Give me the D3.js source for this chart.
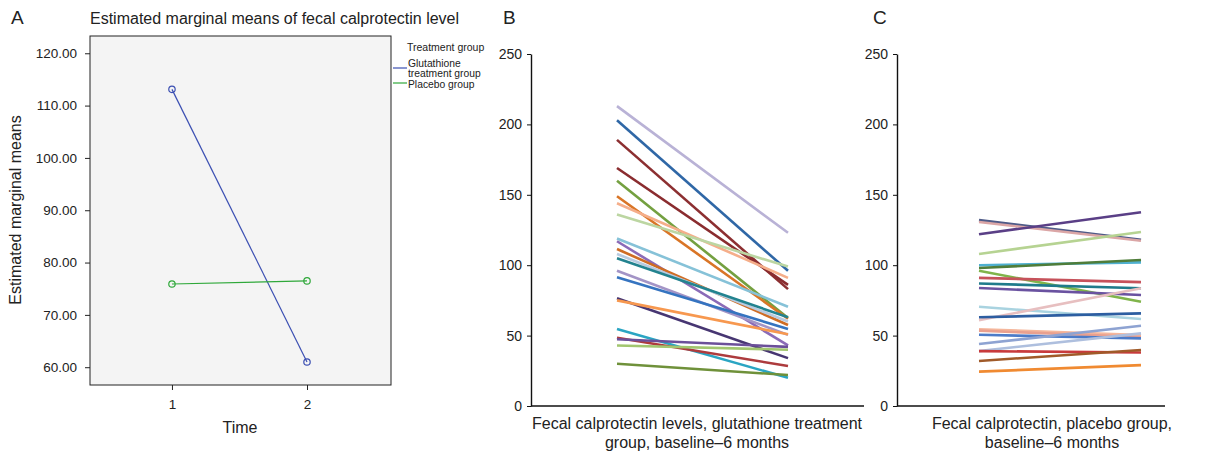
<!DOCTYPE html>
<html>
  <head>
    <meta charset="utf-8">
    <script src="https://d3js.org/d3.v7.min.js"></script>
    <title>Fecal calprotectin</title>
    <style>
      body { margin: 0; background: #fff; }
      text { font-family: "Liberation Sans", Arial, sans-serif; fill: #222; }
    </style>
  </head>
  <body>
    <svg width="1218" height="451"></svg>
    <script>
      // Panel A: estimated marginal means
      const timePoints = [1, 2];
      const meansGlutathione = [113.1, 61.0];
      const meansPlacebo = [75.9, 76.5];
      const meanTicks = [60, 70, 80, 90, 100, 110, 120];
      const legendLabels = [['Glutathione', 'treatment group'], ['Placebo group']];

      // Panel B: glutathione group, baseline and 6 months
      const glutBaseline = [213, 203, 189, 169, 160, 149, 144, 136, 119, 117, 111.5, 108, 105, 96, 91.5, 76.5, 75, 54.7, 48.5, 47.4, 43, 30];
      const glut6m       = [123, 96, 83, 86, 62.5, 62, 91, 99, 70.5, 43, 57.5, 60, 63, 50.5, 54.7, 34, 51, 20, 28.4, 42, 40, 22];

      // Panel C: placebo group, baseline and 6 months
      const placBaseline = [132, 130.7, 122, 108, 100, 98, 96, 91, 87, 83.8, 70.5, 61, 63, 54.5, 53.5, 50.6, 44, 39, 39, 32, 24.4];
      const plac6m       = [118, 117.4, 137.6, 123.6, 102, 103.7, 74, 88, 83.6, 78.8, 61.8, 83.6, 65.8, 50.4, 49, 48, 57, 51.6, 38, 39.8, 29];
      const levelTicks = [0, 50, 100, 150, 200, 250];

      const glutColors = ['#b9b2d6', '#2f67a6', '#8c2f31', '#8a2c2f', '#74a040', '#d97526', '#f5ae8a', '#bcd6a2',
                          '#86c2d8', '#8b6bb7', '#cf6d24', '#b8cbe0', '#23838f', '#a394c6', '#3574c0', '#473672',
                          '#f7984f', '#2aa5c3', '#ad3b3d', '#6b4f99', '#a2c66f', '#6f913a'];
      const placColors = ['#4f5b88', '#dba6a6', '#5a3f86', '#b6d392', '#4fb0d0', '#4f7d3a', '#80b44b', '#c6525b',
                          '#1f7b8b', '#6a52a0', '#a9d3e0', '#e7bfc0', '#2d5ea1', '#f5b79c', '#e9a08f', '#4c7bc8',
                          '#8ea3d2', '#aebfde', '#c83a3c', '#a05a29', '#f08a31'];

      const svg = d3.select('svg');
      const font = '"Liberation Sans", Arial, sans-serif';

      // ---------- Panel A ----------
      const a = { left: 90, right: 391, top: 36, bottom: 385 };
      const ax = d3.scaleLinear().domain([0.393, 2.622]).range([a.left, a.right]);
      const ay = d3.scaleLinear().domain([56.6, 123.3]).range([a.bottom, a.top]);

      svg.append('text').attr('x', 11).attr('y', 24).attr('font-size', 19).text('A');
      svg.append('text').attr('x', 90).attr('y', 24).attr('font-size', 16)
        .text('Estimated marginal means of fecal calprotectin level');

      svg.append('rect')
        .attr('x', a.left).attr('y', a.top)
        .attr('width', a.right - a.left).attr('height', a.bottom - a.top)
        .attr('fill', '#f4f4f4').attr('stroke', '#222').attr('stroke-width', 1);

      const yAxisA = svg.append('g').attr('transform', `translate(${a.left},0)`)
        .call(d3.axisLeft(ay).tickValues(meanTicks).tickFormat(d3.format('.2f')).tickSize(5).tickSizeOuter(0).tickPadding(8));
      yAxisA.select('.domain').remove();
      yAxisA.selectAll('text').attr('font-size', 13.5).attr('font-family', font).attr('fill', '#222');
      yAxisA.selectAll('line').attr('stroke', '#222');

      const xAxisA = svg.append('g').attr('transform', `translate(0,${a.bottom})`)
        .call(d3.axisBottom(ax).tickValues(timePoints).tickFormat(d3.format('d')).tickSize(5).tickPadding(9));
      xAxisA.select('.domain').remove();
      xAxisA.selectAll('text').attr('font-size', 13.5).attr('font-family', font).attr('fill', '#222');
      xAxisA.selectAll('line').attr('stroke', '#222');

      svg.append('text').attr('x', 240).attr('y', 433).attr('text-anchor', 'middle')
        .attr('font-size', 16).text('Time');
      svg.append('text').attr('transform', 'translate(21,210) rotate(-90)')
        .attr('text-anchor', 'middle').attr('font-size', 16).text('Estimated marginal means');

      const meanSeries = [
        { values: meansGlutathione, color: '#3b4fb2' },
        { values: meansPlacebo, color: '#2fa83a' }
      ];
      const lineA = d3.line().x((d, i) => ax(timePoints[i])).y(d => ay(d));
      meanSeries.forEach(s => {
        svg.append('path').attr('d', lineA(s.values))
          .attr('fill', 'none').attr('stroke', s.color).attr('stroke-width', 1.2);
        svg.selectAll(null).data(s.values).enter().append('circle')
          .attr('cx', (d, i) => ax(timePoints[i])).attr('cy', d => ay(d)).attr('r', 3.2)
          .attr('fill', 'none').attr('stroke', s.color).attr('stroke-width', 1.2);
      });

      // legend
      svg.append('text').attr('x', 407).attr('y', 51).attr('font-size', 10.5).text('Treatment group');
      const legendRows = [{ line: 68, text: 67 }, { line: 83, text: 88 }];
      legendLabels.forEach((lab, i) => {
        const r = legendRows[i];
        svg.append('line').attr('x1', 393).attr('x2', 407).attr('y1', r.line).attr('y2', r.line)
          .attr('stroke', meanSeries[i].color).attr('stroke-width', 1.2);
        lab.forEach((t, j) => {
          svg.append('text').attr('x', 408).attr('y', r.text + j * 9.5).attr('font-size', 10.3).text(t);
        });
      });

      // ---------- Panels B and C ----------
      function slopePanel(opts) {
        const y = d3.scaleLinear().domain([0, 250]).range([406, 54]);
        const x = d3.scaleLinear().domain([0, 1]).range([opts.x0, opts.x1]);

        svg.append('text').attr('x', opts.letterX).attr('y', 24).attr('font-size', 19).text(opts.letter);

        const yAxis = svg.append('g').attr('transform', `translate(${opts.axisX},0)`)
          .call(d3.axisLeft(y).tickValues(levelTicks).tickSize(4).tickSizeOuter(0).tickPadding(5));
        yAxis.select('.domain').attr('stroke', '#111').attr('stroke-width', 1.4);
        yAxis.selectAll('text').attr('font-size', 14).attr('font-family', font).attr('fill', '#222');
        yAxis.selectAll('line').attr('stroke', '#111');

        svg.append('line').attr('x1', opts.axisX).attr('x2', opts.axisEnd)
          .attr('y1', y(0)).attr('y2', y(0)).attr('stroke', '#111').attr('stroke-width', 1.4);

        opts.start.forEach((v, i) => {
          svg.append('line')
            .attr('x1', x(0)).attr('y1', y(v))
            .attr('x2', x(1)).attr('y2', y(opts.end[i]))
            .attr('stroke', opts.colors[i % opts.colors.length])
            .attr('stroke-width', 2.6).attr('stroke-linecap', 'butt');
        });

        opts.label.forEach((t, j) => {
          svg.append('text').attr('x', opts.labelX).attr('y', 429 + j * 19)
            .attr('text-anchor', 'middle').attr('font-size', 16).text(t);
        });
      }

      slopePanel({
        letter: 'B', letterX: 503, axisX: 531, axisEnd: 864, x0: 617, x1: 788,
        start: glutBaseline, end: glut6m, colors: glutColors, labelX: 697,
        label: ['Fecal calprotectin levels, glutathione treatment', 'group, baseline\u20136 months']
      });

      slopePanel({
        letter: 'C', letterX: 873, axisX: 897, axisEnd: 1165, x0: 979, x1: 1141,
        start: placBaseline, end: plac6m, colors: placColors, labelX: 1052,
        label: ['Fecal calprotectin, placebo group,', 'baseline\u20136 months']
      });
    </script>
  </body>
</html>
